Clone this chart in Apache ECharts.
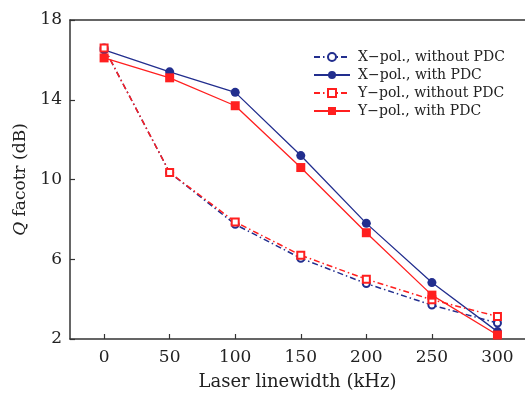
<!DOCTYPE html>
<html><head><meta charset="utf-8">
<script src="https://cdn.jsdelivr.net/npm/echarts@6/dist/echarts.min.js"></script>
<style>html,body{margin:0;padding:0;background:#fff}#c{width:525px;height:396px}</style>
</head><body><div id="c"></div>
<script>
const linewidths = [0, 50, 100, 150, 200, 250, 300];
const xTicks = [0, 50, 100, 150, 200, 250, 300];
const xPolWithout = [16.6, 10.35, 7.75, 6.05, 4.78, 3.7, 2.8];
const xPolWith = [16.5, 15.4, 14.37, 11.2, 7.8, 4.83, 2.37];
const yPolWithout = [16.6, 10.35, 7.87, 6.2, 5.0, 3.97, 3.13];
const yPolWith = [16.1, 15.1, 13.7, 10.6, 7.33, 4.2, 2.2];
const names = ['X\u2212pol., without PDC', 'X\u2212pol., with PDC', 'Y\u2212pol., without PDC', 'Y\u2212pol., with PDC'];

const BLUE = '#222e8e', RED = '#ff1f1f';
const FONT = 'DejaVu Serif';
const pair = arr => linewidths.map((x, i) => [x, arr[i]]);
const dashDot = [6, 3, 1.5, 3];

const chart = echarts.init(document.getElementById('c'), null, {renderer: 'canvas'});
chart.setOption({
  animation: false,
  backgroundColor: '#fff',
  grid: {left: 70, right: 0, top: 20, bottom: 56, containLabel: false},
  legend: {
    orient: 'vertical', left: 308, top: 45, itemWidth: 36, itemHeight: 10, itemGap: 4,
    textStyle: {fontFamily: FONT, fontSize: 14, color: '#222', padding: [0, 0, 0, 3]},
    data: names
  },
  xAxis: [{
    type: 'value', min: -26, max: 321,
    name: 'Laser linewidth (kHz)', nameLocation: 'middle', nameGap: 34,
    nameTextStyle: {fontFamily: FONT, fontSize: 18, color: '#222'},
    axisLine: {onZero: false, lineStyle: {color: '#333', width: 1.5}},
    axisTick: {inside: true, length: 5, customValues: xTicks, lineStyle: {color: '#333', width: 1.2}},
    axisLabel: {customValues: xTicks, fontFamily: FONT, fontSize: 17, color: '#222', margin: 10},
    splitLine: {show: false}
  }, {
    type: 'value', position: 'top', min: -26, max: 321,
    axisLine: {show: true, onZero: false, lineStyle: {color: '#333', width: 1.5}},
    axisTick: {show: false}, axisLabel: {show: false}, splitLine: {show: false}
  }],
  yAxis: {
    type: 'value', min: 2, max: 18, interval: 4,
    name: '{i|Q} facotr (dB)', nameLocation: 'middle', nameGap: 36,
    nameTextStyle: {fontFamily: FONT, fontSize: 17, color: '#222',
      rich: {i: {fontFamily: FONT, fontStyle: 'italic', fontSize: 17, color: '#222'}}},
    axisLine: {show: true, onZero: false, lineStyle: {color: '#333', width: 1.5}},
    axisTick: {inside: true, length: 5, lineStyle: {color: '#333', width: 1.2}},
    axisLabel: {fontFamily: FONT, fontSize: 17, color: '#222', margin: 8},
    splitLine: {show: false}
  },
  series: [
    {name: names[0], type: 'line', data: pair(xPolWithout), symbol: 'emptyCircle', symbolSize: 7,
      itemStyle: {color: BLUE, borderColor: BLUE, borderWidth: 1},
      lineStyle: {color: BLUE, width: 1.5, type: dashDot}},
    {name: names[1], type: 'line', data: pair(xPolWith), symbol: 'circle', symbolSize: 9,
      itemStyle: {color: BLUE}, lineStyle: {color: BLUE, width: 1.3}},
    {name: names[2], type: 'line', data: pair(yPolWithout), symbol: 'emptyRect', symbolSize: 7,
      itemStyle: {color: RED, borderColor: RED, borderWidth: 1},
      lineStyle: {color: RED, width: 1.5, type: dashDot}},
    {name: names[3], type: 'line', data: pair(yPolWith), symbol: 'rect', symbolSize: 9,
      itemStyle: {color: RED}, lineStyle: {color: RED, width: 1.3}}
  ]
});
</script></body></html>
